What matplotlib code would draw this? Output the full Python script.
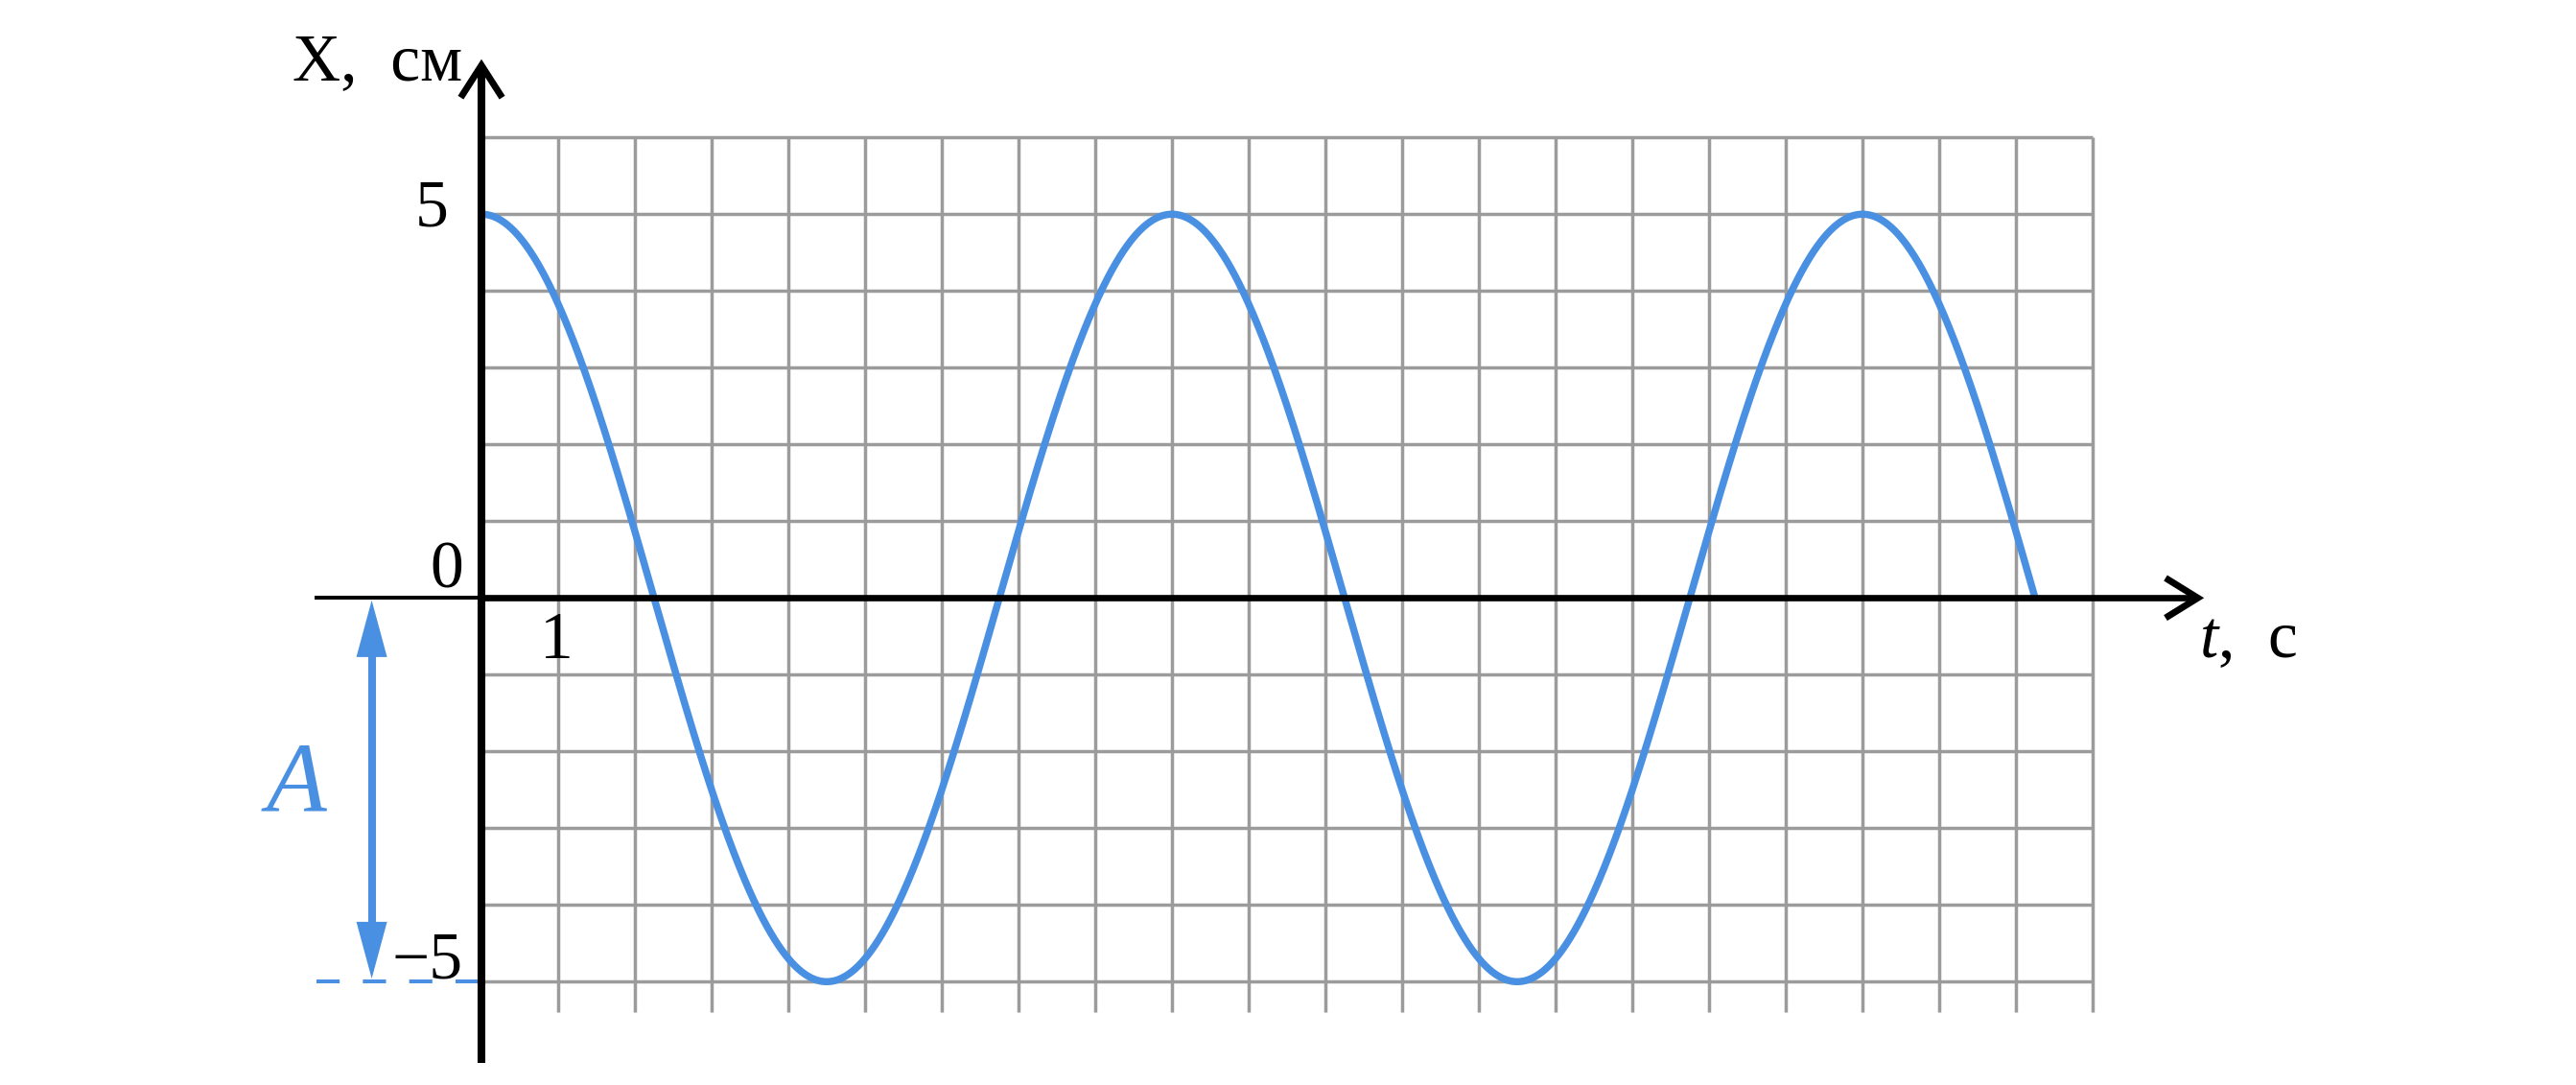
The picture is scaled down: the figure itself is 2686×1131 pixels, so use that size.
import numpy as np
import matplotlib
matplotlib.use("Agg")
import matplotlib.pyplot as plt

# ---- data ----
amplitude = 5.0        # cm
period = 9.0           # s
t_end = 20.25          # s, where the drawn curve stops
t_grid = list(range(1, 22))          # vertical grid lines
x_grid = [-5, -4, -3, -2, -1, 1, 2, 3, 4, 5, 6]   # horizontal grid lines
x_tick_labels = {1: "1"}
y_tick_labels = {5: "5", 0: "0", -5: "\u22125"}

BLUE = "#4A90E2"
GRID = "#9B9B9B"
SERIF = ["Liberation Serif", "DejaVu Serif"]

plt.rcParams["mathtext.fontset"] = "custom"
plt.rcParams["mathtext.it"] = "Liberation Serif:italic"
plt.rcParams["mathtext.rm"] = "Liberation Serif"

W, H, DPI = 2686, 1131, 100
fig = plt.figure(figsize=(W / DPI, H / DPI), dpi=DPI)
ax = fig.add_axes([0, 0, 1, 1])
# pixel mapping: t=0 at x=502px, x=0 at y=623px, 80 px per unit
ox, oy, u = 502.0, 623.3, 80.0
ax.set_xlim(-ox / u, (W - ox) / u)
ax.set_ylim((oy - H) / u, oy / u)
ax.axis("off")

# grid
for tg in t_grid:
    ax.plot([tg, tg], [-5.4, 6], color=GRID, lw=2.5, solid_capstyle="butt", zorder=1)
for xg in x_grid:
    ax.plot([0, 21], [xg, xg], color=GRID, lw=2.5, solid_capstyle="butt", zorder=1)

# curve
t = np.linspace(0, t_end, 2000)
x = amplitude * np.cos(2 * np.pi * t / period)
ax.plot(t, x, color=BLUE, lw=5.4, solid_capstyle="butt", zorder=3)

# axes lines
ax.plot([-2.175, 0], [0, 0], color="black", lw=2.9, solid_capstyle="butt", zorder=4)
ax.plot([0, 22.35], [0, 0], color="black", lw=4.8, solid_capstyle="butt", zorder=4)
ax.plot([0, 0], [-6.055, 6.92], color="black", lw=5.8, solid_capstyle="butt", zorder=4)
# chevron arrowheads
ax.plot([21.95, 22.37, 21.95], [0.26, 0, -0.26], color="black", lw=5.0,
        solid_joinstyle="miter", solid_capstyle="butt", zorder=4)
ax.plot([-0.27, 0, 0.27], [6.52, 6.94, 6.52], color="black", lw=5.0,
        solid_joinstyle="miter", solid_capstyle="butt", zorder=4)

# dashed amplitude line at -A
ax.plot([-2.15, 0], [-amplitude, -amplitude], color=BLUE, lw=2.9,
        dashes=(6, 6), dash_capstyle="butt", zorder=2)

# amplitude double arrow (shaft + two filled heads)
ax_x = -1.43
top, bot = -0.03, -amplitude + 0.04
hl, hw = 0.74, 0.2
ax.plot([ax_x, ax_x], [top - hl + 0.05, bot + hl - 0.05], color=BLUE, lw=5.8,
        solid_capstyle="butt", zorder=3)
ax.fill([ax_x, ax_x - hw, ax_x + hw], [top, top - hl, top - hl], color=BLUE, lw=0, zorder=3)
ax.fill([ax_x, ax_x - hw, ax_x + hw], [bot, bot + hl, bot + hl], color=BLUE, lw=0, zorder=3)
ax.text(-2.81, -2.78, "A", fontsize=74, family=SERIF, style="italic",
        color=BLUE, ha="left", va="baseline")

# tick labels
for tv, lab in x_tick_labels.items():
    ax.text(tv - 0.025, -0.79, lab, fontsize=50, family=SERIF,
            ha="center", va="baseline")
ax.text(-0.425, 4.85, y_tick_labels[5], fontsize=50, family=SERIF, ha="right", va="baseline")
ax.text(-0.24, 0.14, y_tick_labels[0], fontsize=50, family=SERIF, ha="right", va="baseline")
ax.text(-0.24, -4.95, y_tick_labels[-5], fontsize=50, family=SERIF, ha="right", va="baseline")

# axis titles
ax.text(-2.46, 6.75, "X,  см", fontsize=50, family=SERIF, ha="left", va="baseline")
ax.text(22.39, -0.77, "$t$,  с", fontsize=50, family=SERIF, ha="left", va="baseline")

fig.savefig("out.png", dpi=DPI)
